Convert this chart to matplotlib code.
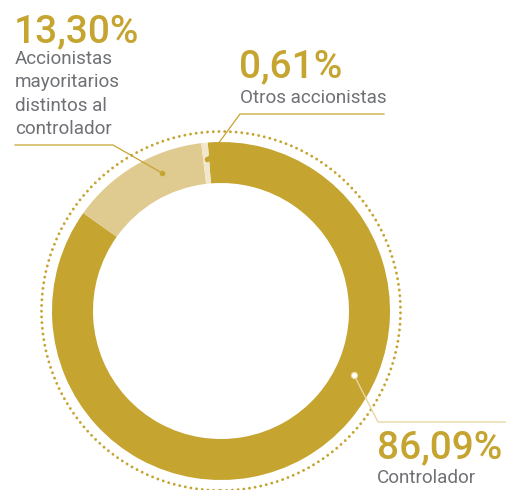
import matplotlib
matplotlib.use("Agg")
import matplotlib.pyplot as plt
from matplotlib.patches import Circle
import numpy as np

categories = ["Controlador", "Accionistas mayoritarios distintos al controlador", "Otros accionistas"]
values = [86.09, 13.30, 0.61]
pct_labels = ["86,09%", "13,30%", "0,61%"]
colors = ["#C5A430", "#DFCA90", "#F1E7CB"]

GOLD = "#C5A430"
GRAY = "#6F7175"

W, H = 509, 490
fig = plt.figure(figsize=(W / 100, H / 100), dpi=100)
ax = fig.add_axes([0, 0, 1, 1])

cx, cy = 221, H - 311
R = 169
ring = 41

wedges, _ = ax.pie(values, colors=colors, startangle=94.5, counterclock=False,
                   center=(cx, cy), radius=R,
                   wedgeprops=dict(width=ring, linewidth=0, antialiased=True))

# dotted outer circle
dot = Circle((cx, cy), 179.5, fill=False, edgecolor=GOLD, linewidth=2.1,
             linestyle=(0, (0.01, 1.95)))
dot.set_capstyle("round")
ax.add_patch(dot)

ax.set_xlim(0, W)
ax.set_ylim(0, H)
ax.set_aspect("equal")
ax.axis("off")

def py(y):
    return H - y

num_kw = dict(fontsize=28, color=GOLD, family="Roboto", fontweight="medium", va="baseline", ha="left")
lab_kw = dict(fontsize=13.6, color=GRAY, family="Roboto", fontweight="normal", va="baseline", ha="left")

# 13,30%
ax.text(14, py(42), pct_labels[1], **num_kw)
for i, line in enumerate(["Accionistas", "mayoritarios", "distintos al", "controlador"]):
    ax.text(15, py(64 + i * 23.5), line, **lab_kw)
ax.plot([15, 113, 162], [py(145), py(145), py(173)], color=GOLD, lw=0.9)
ax.plot([162], [py(173)], "o", color=GOLD, ms=4, mec="none")

# 0,61%
ax.text(239, py(77), pct_labels[2], **num_kw)
ax.text(240, py(103), categories[2], **lab_kw)
ax.plot([384, 240, 207], [py(114), py(114), py(159)], color=GOLD, lw=0.9)
ax.plot([207], [py(159)], "o", color=GOLD, ms=4, mec="none")

# 86,09%
LIGHT = "#E6D7A4"
ax.text(377, py(458), pct_labels[0], **num_kw)
ax.text(377, py(483), categories[0], **lab_kw)
ax.plot([354, 378, 505], [py(375), py(422), py(422)], color=LIGHT, lw=1.0)
ax.plot([354], [py(375)], "o", color="white", ms=4.5, mec=LIGHT, mew=0.8)

fig.savefig("out.png", dpi=100)
